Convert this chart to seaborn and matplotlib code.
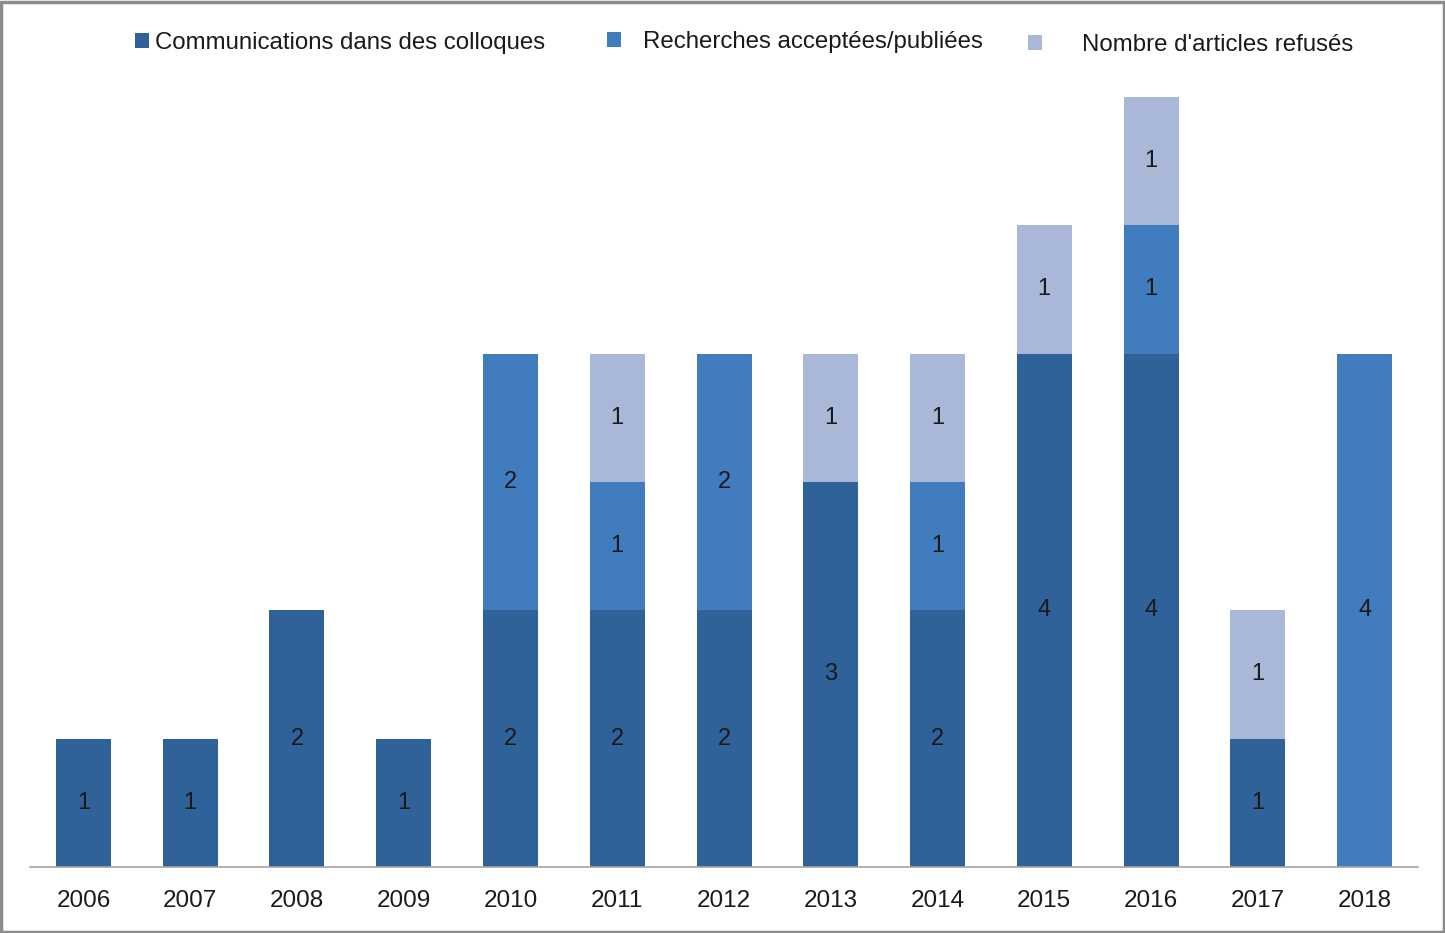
import matplotlib
matplotlib.use("Agg")
import matplotlib.pyplot as plt
import seaborn as sns
import pandas as pd
import numpy as np
from matplotlib.patches import Rectangle, Patch

years = ["2006", "2007", "2008", "2009", "2010", "2011", "2012",
         "2013", "2014", "2015", "2016", "2017", "2018"]
communications = [1, 1, 2, 1, 2, 2, 2, 3, 2, 4, 4, 1, 0]
recherches = [0, 0, 0, 0, 2, 1, 2, 0, 1, 0, 1, 0, 4]
refuses = [0, 0, 0, 0, 0, 1, 0, 1, 1, 1, 1, 1, 0]
series_names = ["Communications dans des colloques",
                "Recherches acceptées/publiées",
                "Nombre d'articles refusés"]
colors = ["#2E6299", "#417CBE", "#A9B8D8"]

sns.set_theme(style="white")
plt.rcParams["font.family"] = ["Liberation Sans", "DejaVu Sans"]

fig = plt.figure(figsize=(14.45, 9.33), dpi=100)
ax = fig.add_axes([0.0208, 0.0707, 0.9605, 0.853])

df = pd.DataFrame({"year": years, "c": communications, "r": recherches, "f": refuses})
bottoms = [np.zeros(len(years)),
           np.array(communications, dtype=float),
           np.array(communications, dtype=float) + np.array(recherches, dtype=float)]
for col, name, color, bottom in zip(["c", "r", "f"], series_names, colors, bottoms):
    sns.barplot(data=df, x="year", y=col, color=color, bottom=bottom,
                width=0.515, ax=ax, saturation=1, linewidth=0)
    cont = ax.containers[-1]
    vals = df[col].tolist()
    ax.bar_label(cont, labels=[str(v) if v > 0 else "" for v in vals],
                 label_type="center", fontsize=17, color="#1a1a1a")

ax.set_xlim(-0.5, 12.5)
ax.set_ylim(0, 6.2)
ax.set_xlabel("")
ax.set_ylabel("")
ax.set_yticks([])
ax.tick_params(axis="x", length=0, labelsize=17.5, pad=16.5, colors="#1a1a1a")
for s in ["top", "right", "left"]:
    ax.spines[s].set_visible(False)
ax.spines["bottom"].set_color("#A6A6A6")
ax.spines["bottom"].set_linewidth(1.2)

# legend entries placed individually to reproduce the uneven spacing
legend_x = [135 / 1445, 607 / 1445, 1028 / 1445]
legend_y = [1 - 43 / 933, 1 - 42 / 933, 1 - 45 / 933]
text_pads = [0.26, 0.92, 1.65]
for name, color, x, y, tp in zip(series_names, colors, legend_x, legend_y, text_pads):
    fig.legend([Patch(facecolor=color, edgecolor="none")], [name],
               loc="center left", bbox_to_anchor=(x, y),
               frameon=False, fontsize=17.3, handlelength=0.58, handleheight=0.58,
               handletextpad=tp, borderpad=0, borderaxespad=0,
               labelcolor="#1a1a1a")

fig.patches.append(Rectangle((0.0007, 0.001), 0.9986, 0.997, transform=fig.transFigure,
                             fill=False, edgecolor="#8C8C8C", linewidth=2.5))

fig.savefig("out.png", dpi=100)
